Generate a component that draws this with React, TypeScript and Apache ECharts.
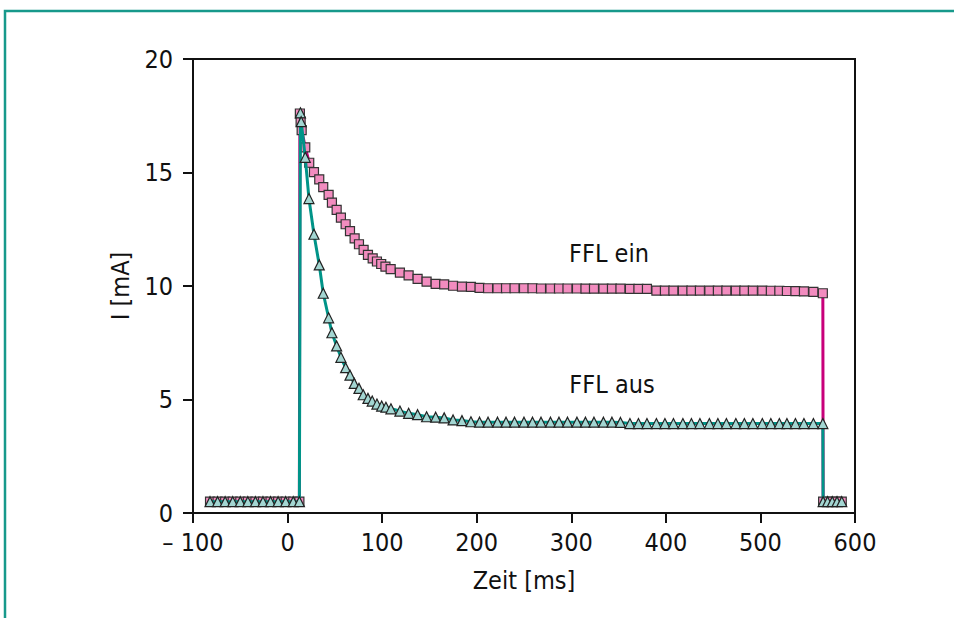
import React, { useEffect, useRef } from "react";
import * as echarts from "echarts";

// Time stamps [ms]
const timesBaseStart = [-82, -74, -66, -58, -50, -42, -34, -26, -18, -10, -2, 6, 12.5];
const timesDecayEin = [13, 13.8, 14.9, 18.7, 22.9, 27.9, 33.5, 37.7, 43.4, 46.9, 51.9, 56.4, 61.4, 66, 70.9, 75.5, 80.4, 85, 90, 94.5, 99, 103.5, 109, 118.8, 128, 137.5, 147, 156.6, 165.6, 175, 184.4, 193.9];
const timesDecayAus = [13.6, 14.4, 18.7, 22.6, 27.9, 33.5, 37.7, 43.4, 46.9, 51.9, 56.4, 61.4, 66, 70.5, 75.5, 80, 85, 89.5, 94.5, 99.5, 104, 109.3, 118.8, 128, 137.5, 147, 156.6, 165.6, 175, 184.4, 193.9];
const timesFlat = [203, 212, 222, 231, 240, 250, 259, 268, 278, 287, 296, 306, 315, 324, 334, 343, 352, 362, 371, 380, 390, 399, 408, 418, 427, 436, 446, 455, 464, 474, 483, 492, 502, 511, 520, 528, 537, 546, 556, 566];
const timesBaseEnd = [566.3, 571, 576, 581, 586];

// Current values [mA]
const valuesBaseStart = [0.5, 0.5, 0.5, 0.5, 0.5, 0.5, 0.5, 0.5, 0.5, 0.5, 0.5, 0.5, 0.5];
const valuesDecayEin = [17.6, 17.24, 16.87, 16.11, 15.43, 15.02, 14.7, 14.36, 14.01, 13.67, 13.35, 13.01, 12.72, 12.42, 12.1, 11.84, 11.59, 11.37, 11.22, 11.08, 10.97, 10.85, 10.74, 10.59, 10.47, 10.31, 10.19, 10.09, 10.07, 10.01, 9.97, 9.96];
const valuesDecayAus = [17.63, 17.24, 15.67, 13.85, 12.28, 10.93, 9.68, 8.6, 7.94, 7.36, 6.86, 6.4, 6.07, 5.71, 5.49, 5.21, 5.05, 4.93, 4.8, 4.71, 4.66, 4.59, 4.49, 4.39, 4.33, 4.24, 4.22, 4.19, 4.1, 4.07, 4.02];
const valuesFlatEin = [9.92, 9.9, 9.9, 9.9, 9.9, 9.9, 9.9, 9.89, 9.89, 9.89, 9.89, 9.89, 9.88, 9.88, 9.88, 9.88, 9.88, 9.87, 9.87, 9.87, 9.8, 9.8, 9.8, 9.8, 9.8, 9.8, 9.8, 9.8, 9.8, 9.8, 9.8, 9.8, 9.8, 9.79, 9.79, 9.78, 9.77, 9.76, 9.74, 9.68];
const valuesFlatAus = [4.0, 4.0, 4.0, 4.0, 4.0, 4.0, 4.0, 4.0, 4.0, 4.0, 4.0, 4.0, 4.0, 4.0, 4.0, 4.0, 3.99, 3.94, 3.94, 3.94, 3.94, 3.94, 3.94, 3.94, 3.94, 3.94, 3.94, 3.94, 3.94, 3.94, 3.94, 3.94, 3.94, 3.94, 3.94, 3.94, 3.94, 3.94, 3.94, 3.94];
const valuesBaseEnd = [0.5, 0.5, 0.5, 0.5, 0.5];

const xTicks = { min: -100, max: 600, interval: 100 };
const yTicks = { min: 0, max: 20, interval: 5 };
const seriesNames = ["FFL ein", "FFL aus"];
const axisNames = ["Zeit [ms]", "I [mA]"];

const zip = (t: number[], v: number[]) => t.map((x, i) => [x, v[i]]);

const FONT = "'Liberation Sans Narrow', 'DejaVu Sans Condensed', 'Roboto', sans-serif";
const FS = 25;

export default function App() {
  const ref = useRef<HTMLDivElement>(null);
  useEffect(() => {
    if (!ref.current) return;
    const chart = echarts.init(ref.current, null, { renderer: "svg" });
    const ein = [
      ...zip(timesBaseStart, valuesBaseStart),
      ...zip(timesDecayEin, valuesDecayEin),
      ...zip(timesFlat, valuesFlatEin),
      ...zip(timesBaseEnd, valuesBaseEnd),
    ];
    const aus = [
      ...zip(timesBaseStart, valuesBaseStart),
      ...zip(timesDecayAus, valuesDecayAus),
      ...zip(timesFlat, valuesFlatAus),
      ...zip(timesBaseEnd, valuesBaseEnd),
    ];
    chart.setOption({
      animation: false,
      backgroundColor: "#ffffff",
      textStyle: { fontFamily: FONT },
      grid: {
        left: 193,
        right: 99,
        top: 59,
        bottom: 105,
        show: true,
        borderColor: "#111",
        borderWidth: 2,
        backgroundColor: "transparent",
      },
      xAxis: {
        type: "value",
        min: xTicks.min,
        max: xTicks.max,
        interval: xTicks.interval,
        name: axisNames[0],
        nameLocation: "middle",
        nameGap: 55,
        nameTextStyle: { fontSize: FS, color: "#111", fontFamily: FONT },
        axisLine: { show: true, onZero: false, lineStyle: { color: "#111", width: 2 } },
        axisTick: { show: true, inside: false, length: 10, lineStyle: { color: "#111", width: 2 } },
        splitLine: { show: false },
        axisLabel: {
          margin: 17,
          fontSize: FS,
          color: "#111",
          fontFamily: FONT,
          formatter: (v: number) => (v < 0 ? "– " + Math.abs(v) : String(v)),
        },
      },
      yAxis: {
        type: "value",
        min: yTicks.min,
        max: yTicks.max,
        interval: yTicks.interval,
        name: axisNames[1],
        nameLocation: "middle",
        nameGap: 60,
        nameRotate: 90,
        nameTextStyle: { fontSize: FS, color: "#111", fontFamily: FONT },
        axisLine: { show: true, onZero: false, lineStyle: { color: "#111", width: 2 } },
        axisTick: { show: true, inside: false, length: 10, lineStyle: { color: "#111", width: 2 } },
        splitLine: { show: false },
        axisLabel: { margin: 20, fontSize: FS, color: "#111", fontFamily: FONT },
      },
      series: [
        {
          name: seriesNames[0],
          type: "line",
          data: ein,
          symbol: "rect",
          symbolSize: 9,
          showAllSymbol: true,
          lineStyle: { color: "#c8007a", width: 3 },
          itemStyle: { color: "#f28cbf", borderColor: "#333", borderWidth: 1.2 },
          z: 2,
        },
        {
          name: seriesNames[1],
          type: "line",
          data: aus,
          symbol: "triangle",
          symbolSize: 10,
          showAllSymbol: true,
          lineStyle: { color: "#009488", width: 3 },
          itemStyle: { color: "#a3d6d2", borderColor: "#222", borderWidth: 1.2 },
          z: 3,
        },
      ],
      graphic: [
        {
          type: "rect",
          shape: { x: 5, y: 11, width: 1000, height: 700 },
          style: { fill: "none", stroke: "#17998b", lineWidth: 2.5 },
          silent: true,
        },
        {
          type: "text",
          x: 609,
          y: 253,
          style: {
            text: seriesNames[0],
            fontSize: FS,
            fontFamily: FONT,
            fill: "#111",
            align: "center",
            verticalAlign: "middle",
          },
        },
        {
          type: "text",
          x: 612,
          y: 384,
          style: {
            text: seriesNames[1],
            fontSize: FS,
            fontFamily: FONT,
            fill: "#111",
            align: "center",
            verticalAlign: "middle",
          },
        },
      ],
    });
    return () => chart.dispose();
  }, []);
  return (
    <div
      ref={ref}
      style={{ position: "absolute", left: 0, top: 0, width: 954, height: 618 }}
    />
  );
}
